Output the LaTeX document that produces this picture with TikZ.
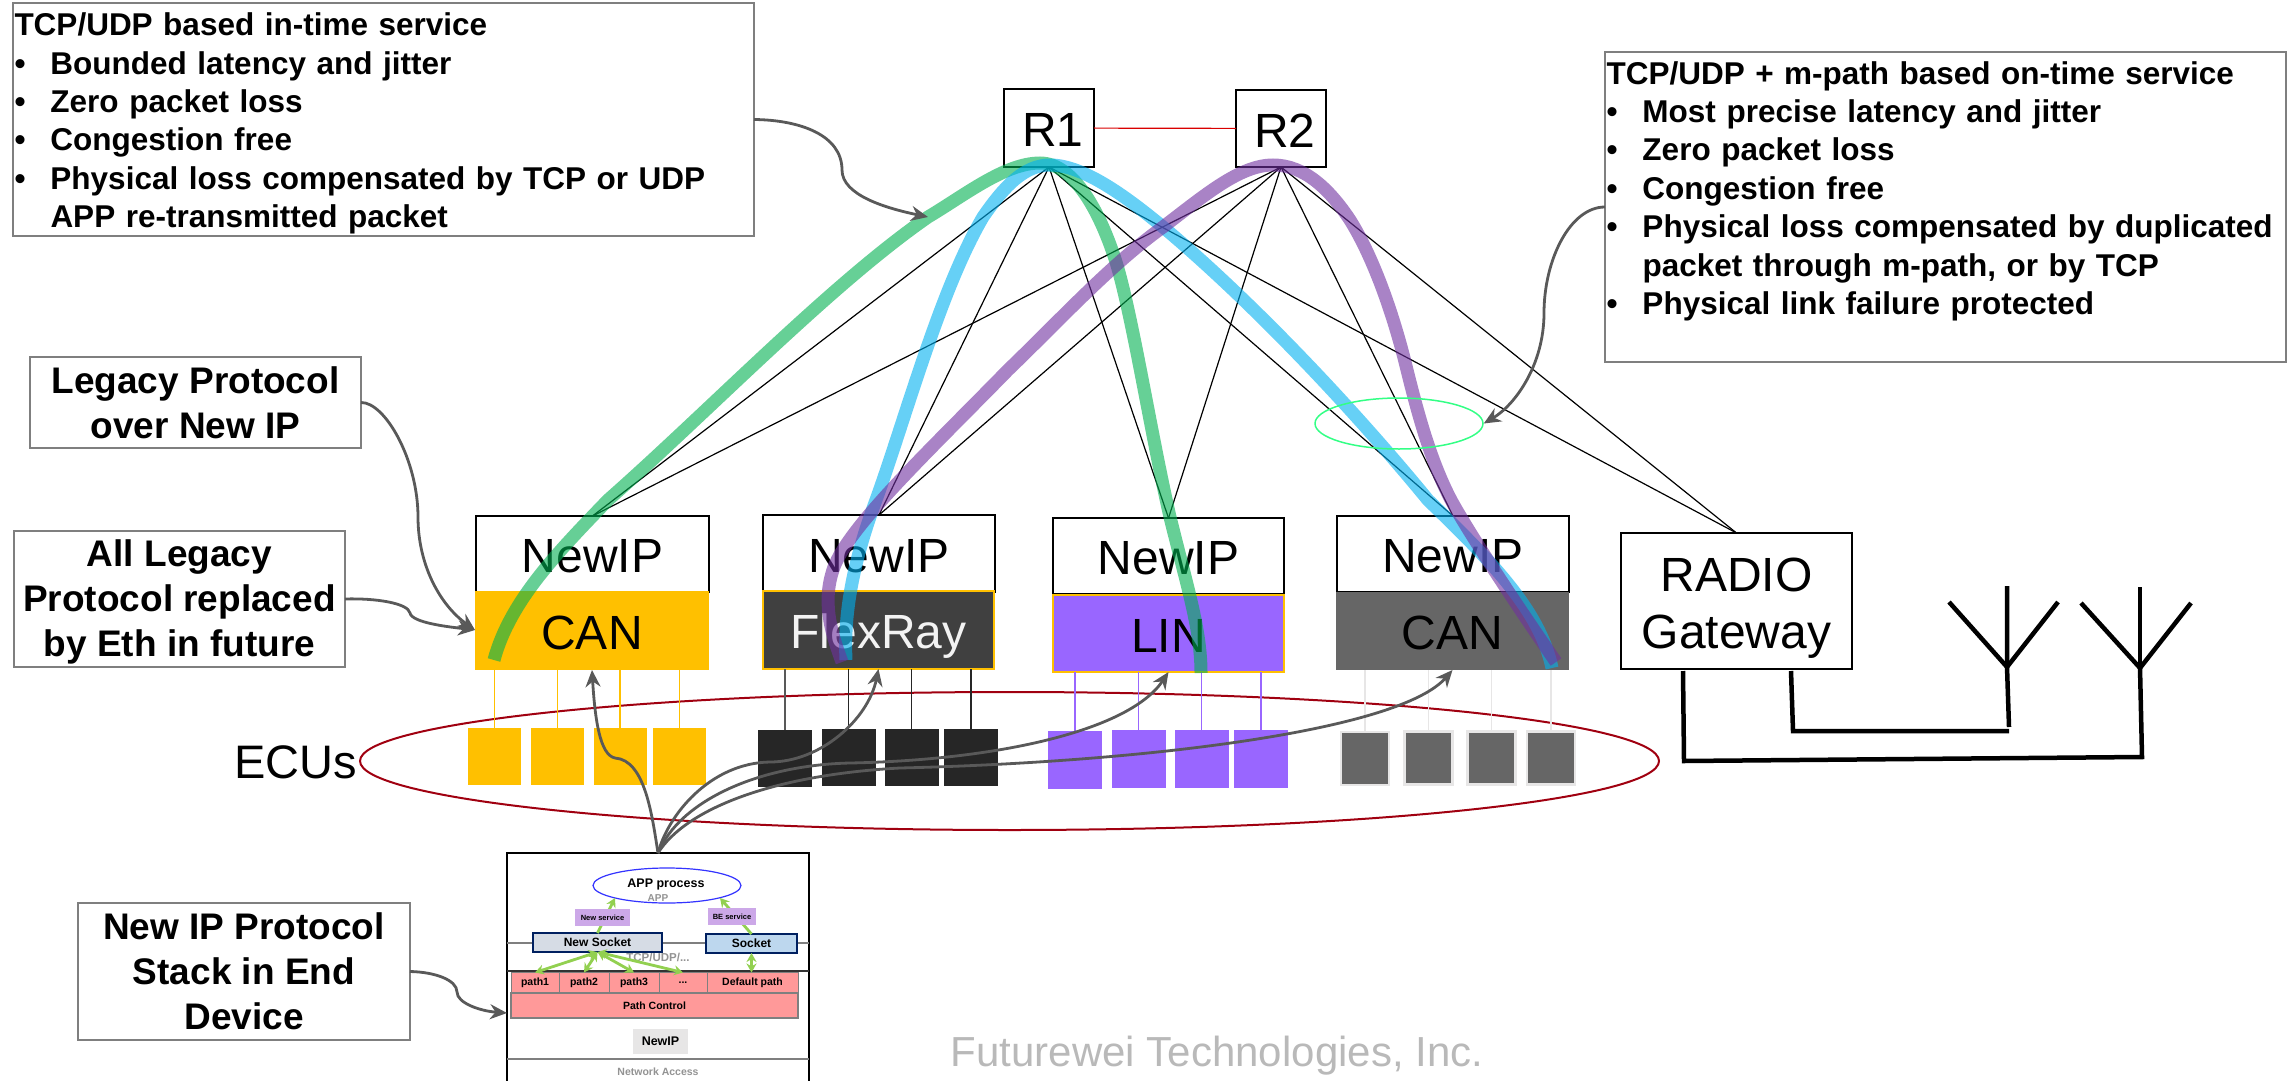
\documentclass[tikz,border=0pt]{standalone}
\usepackage{fontspec}
\setmainfont{Liberation Sans}
\usetikzlibrary{arrows.meta, shapes.geometric, positioning}

\definecolor{linegray}{HTML}{595959}
\definecolor{boxgray}{HTML}{7F7F7F}
\definecolor{ecuyellow}{HTML}{FFC000}
\definecolor{ecublack}{HTML}{262626}
\definecolor{ecupurple}{HTML}{9966FF}
\definecolor{ecugray}{HTML}{666666}
\definecolor{palegray}{HTML}{E7E6E6}
\definecolor{ovalred}{HTML}{A00010}
\definecolor{stackgreen}{HTML}{92D050}
\definecolor{socketblue}{HTML}{002060}
\definecolor{servicepurple}{HTML}{CCA8E8}
\definecolor{pathred}{HTML}{FF9999}
\definecolor{routegreen}{HTML}{00B050}
\definecolor{routeblue}{HTML}{00B0F0}
\definecolor{routepurple}{HTML}{7030A0}
\definecolor{newsockfill}{HTML}{D6DCE5}
\definecolor{sockfill}{HTML}{BDD7EE}

\newcommand{\bul}{\makebox[36pt][l]{•}}

\tikzset{
	bigbox/.style={rectangle,draw=black,line width=1.8pt,fill=white,inner sep=0pt,outer sep=0pt,align=center,font=\fontsize{48}{57}\selectfont},
	oneline/.style={bigbox,text height=37pt,text depth=0pt},
	proto/.style={oneline,draw=none,minimum width=233pt,minimum height=78pt},
	ecu/.style={rectangle,inner sep=0pt,outer sep=0pt,minimum width=54pt,minimum height=57pt},
	note/.style={rectangle,draw=boxgray,line width=2pt,fill=white,inner sep=0pt,outer sep=0pt,align=center,font=\fontsize{37}{45}\bfseries\selectfont},
	listnote/.style={note,align=left,inner xsep=1.5pt,font=\fontsize{31.5}{38.4}\bfseries\selectfont},
	thinline/.style={black,line width=1.2pt},
	callout/.style={linegray,line width=2.8pt,-{Stealth[length=17pt,width=15pt]}},
	antenna/.style={black,line width=4.5pt},
	route/.style={line width=13pt,opacity=.6},
	layer/.style={line width=1.4pt},
	socket/.style={rectangle,draw=socketblue,line width=2pt,inner sep=0pt,outer sep=0pt,font=\fontsize{12}{14}\bfseries\selectfont},
	service/.style={rectangle,fill=servicepurple,inner sep=0pt,outer sep=0pt,font=\fontsize{7.5}{9}\bfseries\selectfont},
	cell/.style={rectangle,draw=boxgray,fill=pathred,line width=1pt,inner sep=0pt,outer sep=0pt,minimum height=21pt,font=\fontsize{10.5}{12}\bfseries\selectfont},
	greenup/.style={stackgreen,line width=2.8pt,-{Stealth[length=9pt,width=10pt]}},
	greenboth/.style={stackgreen,line width=2.8pt,{Stealth[length=9pt,width=10pt]}-{Stealth[length=9pt,width=10pt]}},
	graytext/.style={text=gray!85,font=\fontsize{10.5}{12}\bfseries\selectfont}
}

\begin{document}
\begin{tikzpicture}[x=1pt,y=-1pt]
	\useasboundingbox (0,0) rectangle (2288,1081);
	\clip (0,0) rectangle (2288,1081);

	% routers
	\node[oneline,minimum width=90pt,minimum height=78pt] (r1) at (1049,128) {\hspace*{8pt}R1};
	\node[oneline,minimum width=90pt,minimum height=77pt] (r2) at (1281,128.5) {\hspace*{8pt}R2};
	\draw[red!85!black,line width=1.2pt] (r1) -- (r2);

	% protocol boxes
	\node[oneline,minimum width=233pt,minimum height=76pt] (ip1) at (592.5,554) {NewIP};
	\node[oneline,minimum width=232pt,minimum height=77pt] (ip2) at (879,553.5) {NewIP};
	\node[oneline,minimum width=231pt,minimum height=76pt] (ip3) at (1168.5,556) {NewIP};
	\node[oneline,minimum width=232pt,minimum height=76pt] (ip4) at (1453,554) {NewIP};
	\node[bigbox,line width=1.5pt,minimum width=231pt,minimum height=136pt] (radio) at (1736.5,601) {\rule{0pt}{47pt}RADIO\\Gateway};

	\draw[thinline] (r1.south) -- (ip1.north);
	\draw[thinline] (r1.south) -- (ip2.north);
	\draw[thinline] (r1.south) -- (ip3.north);
	\draw[thinline] (r1.south) -- (ip4.north);
	\draw[thinline] (r1.south) -- (radio.north);
	\draw[thinline] (r2.south) -- (ip1.north);
	\draw[thinline] (r2.south) -- (ip2.north);
	\draw[thinline] (r2.south) -- (ip3.north);
	\draw[thinline] (r2.south) -- (ip4.north);
	\draw[thinline] (r2.south) -- (radio.north);

	\node[proto,fill=ecuyellow,minimum width=234pt,minimum height=79pt] (can1) at (592,630.5) {CAN};
	\node[proto,draw=ecuyellow,line width=1.5pt,fill=black!75,text=palegray!50,minimum width=231pt] (flex) at (878.5,630) {FlexRay};
	\node[proto,draw=ecuyellow,line width=1.5pt,fill=ecupurple,minimum width=231pt,minimum height=77pt] (lin) at (1168.5,633.5) {LIN};
	\node[proto,fill=ecugray] (can2) at (1452.5,631) {CAN};

	% ECUs
	\node[font=\fontsize{47}{58}\selectfont] (ecus) at (296,762) {ECUs};
	\node[ellipse,draw=ovalred,line width=2pt,inner sep=0pt,minimum width=1299pt,minimum height=138pt] (oval) at (1009.5,761) {};

	\node[ecu,fill=ecuyellow,minimum width=53pt] (y1) at (494.5,756.5) {};
	\node[ecu,fill=ecuyellow,minimum width=53pt] (y2) at (557.5,756) {};
	\node[ecu,fill=ecuyellow,minimum width=53pt] (y3) at (620,756) {};
	\node[ecu,fill=ecuyellow,minimum width=53pt] (y4) at (679.5,756) {};
	\node[ecu,fill=ecublack] (b1) at (785,758.5) {};
	\node[ecu,fill=ecublack] (b2) at (848.5,757.5) {};
	\node[ecu,fill=ecublack] (b3) at (911.5,757.5) {};
	\node[ecu,fill=ecublack] (b4) at (971,757.5) {};
	\node[ecu,fill=ecupurple,minimum height=58pt] (p1) at (1075,760) {};
	\node[ecu,fill=ecupurple,minimum height=58pt] (p2) at (1138.5,759) {};
	\node[ecu,fill=ecupurple,minimum height=58pt] (p3) at (1201.5,759) {};
	\node[ecu,fill=ecupurple,minimum height=58pt] (p4) at (1261,759) {};
	\node[ecu,draw=palegray,line width=2.5pt,fill=ecugray,minimum width=48pt,minimum height=53pt] (g1) at (1365,758.5) {};
	\node[ecu,draw=palegray,line width=2.5pt,fill=ecugray,minimum width=48pt,minimum height=53pt] (g2) at (1428.5,758) {};
	\node[ecu,draw=palegray,line width=2.5pt,fill=ecugray,minimum width=48pt,minimum height=53pt] (g3) at (1491.5,758) {};
	\node[ecu,draw=palegray,line width=2.5pt,fill=ecugray,minimum width=48pt,minimum height=53pt] (g4) at (1551,758) {};

	\draw[ecuyellow,line width=1.2pt] (y1.north) -- (y1.north |- can1.south);
	\draw[ecuyellow,line width=1.2pt] (y2.north) -- (y2.north |- can1.south);
	\draw[ecuyellow,line width=1.2pt] (y3.north) -- (y3.north |- can1.south);
	\draw[ecuyellow,line width=1.2pt] (y4.north) -- (y4.north |- can1.south);
	\draw[linegray,line width=1.4pt] (b1.north) -- (b1.north |- flex.south);
	\draw[black!85,line width=1.2pt] (b2.north) -- (b2.north |- flex.south);
	\draw[black!85,line width=1.2pt] (b3.north) -- (b3.north |- flex.south);
	\draw[black!85,line width=1.2pt] (b4.north) -- (b4.north |- flex.south);
	\draw[ecupurple,line width=1.2pt] (p1.north) -- (p1.north |- lin.south);
	\draw[ecupurple,line width=1.2pt] (p2.north) -- (p2.north |- lin.south);
	\draw[ecupurple,line width=1.2pt] (p3.north) -- (p3.north |- lin.south);
	\draw[ecupurple,line width=1.2pt] (p4.north) -- (p4.north |- lin.south);
	\draw[palegray,line width=1.2pt] (g1.north) -- (g1.north |- can2.south);
	\draw[palegray,line width=1.2pt] (g2.north) -- (g2.north |- can2.south);
	\draw[palegray,line width=1.2pt] (g3.north) -- (g3.north |- can2.south);
	\draw[palegray,line width=1.2pt] (g4.north) -- (g4.north |- can2.south);

	% routes over the boxes
	\coordinate (topa) at (1040,163);
	\coordinate (topb) at (1050,165);
	\coordinate (topc) at (1273,165);
	\draw[route,color=routegreen] (494,660) .. controls (510,600) and (560,550) .. (608,500)
		.. controls (710,410) and (830,285) .. (928,217) .. controls (965,195) and (1005,163) .. (topa)
		.. controls (1075,163) and (1100,215) .. (1113,253) .. controls (1130,300) and (1150,430) .. (1170,517)
		.. controls (1188,590) and (1201,630) .. (1201,673);
	\draw[route,color=routeblue] (846,660) .. controls (844,620) and (850,570) .. (876,500)
		.. controls (905,420) and (940,290) .. (983,217) .. controls (1005,185) and (1025,165) .. (topb)
		.. controls (1085,165) and (1130,200) .. (1163,227) .. controls (1250,300) and (1350,405) .. (1428,500)
		.. controls (1490,560) and (1540,610) .. (1552,668);
	\draw[route,color=routepurple] (842,662) .. controls (830,630) and (822,600) .. (834,567)
		.. controls (850,525) and (930,450) .. (1008,370) .. controls (1060,320) and (1110,265) .. (1163,227)
		.. controls (1205,195) and (1240,165) .. (topc) .. controls (1305,165) and (1330,190) .. (1350,220)
		.. controls (1375,260) and (1395,320) .. (1407,370) .. controls (1417,410) and (1430,460) .. (1451,500)
		.. controls (1470,535) and (1520,610) .. (1556,662);
	\node[ellipse,draw=green!60!cyan!80,line width=1.5pt,inner sep=0pt,minimum width=168pt,minimum height=51pt] (dup) at (1399,423.5) {};

	% antennas
	\coordinate (a1) at (2007,667);
	\coordinate (a2) at (2140,668);
	\draw[antenna] (1949,602) -- (a1) -- (2058,602);
	\draw[antenna] (2007,586) -- (a1) -- (2009,727);
	\draw[antenna] (2081,603) -- (a2) -- (2191,603);
	\draw[antenna] (2140,587) -- (a2);
	\draw[antenna] (1683,671) -- (1684,761) -- (2142,757) -- (a2);
	\draw[antenna] (1791,671) -- (1793,731) -- (2009,731);

	% notes
	\node[listnote,text width=738pt,minimum width=741pt,minimum height=233pt] (intime) at (383.5,119.5) {\rule{0pt}{31pt}TCP/UDP based in-time service\\
		\bul Bounded latency and jitter\\
		\bul Zero packet loss\\
		\bul Congestion free\\
		\bul Physical loss compensated by TCP or UDP\\
		\hspace*{36pt}APP re-transmitted packet};
	\node[listnote,text width=678pt,minimum width=681pt,minimum height=310pt] (ontime) at (1945.5,207) {TCP/UDP + m-path based on-time service\\
		\bul Most precise latency and jitter\\
		\bul Zero packet loss\\
		\bul Congestion free\\
		\bul Physical loss compensated by duplicated\\
		\hspace*{36pt}packet through m-path, or by TCP\\
		\bul Physical link failure protected\\
		\mbox{}};
	\node[note,minimum width=331pt,minimum height=91pt] (legacy) at (195.5,402.5) {Legacy Protocol\\over New IP};
	\node[note,minimum width=331pt,minimum height=136pt] (allleg) at (179.5,599) {\rule{0pt}{33pt}All Legacy\\Protocol replaced\\by Eth in future};
	\node[note,minimum width=332pt,minimum height=137pt] (stacknote) at (244,971.5) {New IP Protocol\\Stack in End\\Device};

	% protocol stack of an end device
	\node[rectangle,draw=black,line width=1.5pt,fill=white,inner sep=0pt,outer sep=0pt,minimum width=302pt,minimum height=294pt] (stack) at (658,1000) {};
	\coordinate (l1a) at (stack.west |- 0,943);
	\coordinate (l1b) at (stack.east |- 0,943);
	\coordinate (l2a) at (stack.west |- 0,971);
	\coordinate (l2b) at (stack.east |- 0,971);
	\coordinate (l3a) at (stack.west |- 0,1059);
	\coordinate (l3b) at (stack.east |- 0,1059);
	\draw[layer,boxgray] (l1a) -- (l1b);
	\draw[layer,black!80] (l2a) -- (l2b);
	\draw[layer,boxgray] (l3a) -- (l3b);

	\node[ellipse,draw=blue!80,line width=1.2pt,inner sep=0pt,minimum width=148pt,minimum height=35pt] (app) at (667,885.5) {};
	\node[font=\fontsize{12.5}{14}\bfseries\selectfont] (apptext) at (666,884) {APP process};
	\node[graytext,font=\fontsize{10}{12}\bfseries\selectfont] (applayer) at (658,898.5) {APP};
	\node[graytext,font=\fontsize{11.5}{14}\bfseries\selectfont] (tcplayer) at (658,957) {TCP/UDP/...};

	\node[cell,minimum width=48pt] (pa) at (535,983) {path1};
	\node[cell,minimum width=50pt] (pb) at (584,983) {path2};
	\node[cell,minimum width=50pt] (pc) at (634,983) {path3};
	\node[cell,minimum width=48pt] (pd) at (683,983) {...};
	\node[cell,minimum width=91pt] (pe) at (752.5,983) {Default path};
	\node[cell,minimum width=287pt,minimum height=25pt,line width=1.4pt] (pctl) at (654.5,1005.5) {Path Control};

	\node[socket,fill=newsockfill,minimum width=129pt,minimum height=19pt] (newsock) at (597.5,942.5) {New Socket};
	\node[socket,fill=sockfill,minimum width=91pt,minimum height=19pt] (sock) at (751.5,943.5) {Socket};
	\draw[greenup] (newsock.north) -- (615,898);
	\draw[greenup] (sock.north) -- (720,898);
	\node[service,minimum width=55pt,minimum height=17pt] (newserv) at (602.5,917.5) {New service};
	\node[service,minimum width=48pt,minimum height=17pt] (beserv) at (732,916.5) {BE service};

	\draw[greenboth] (newsock.south) -- (pa.north);
	\draw[greenboth] (newsock.south) -- (pb.north);
	\draw[greenboth] (newsock.south) -- (pc.north);
	\draw[greenboth] (newsock.south) -- (pd.north);
	\draw[greenboth] (sock.south) -- (sock.south |- pe.north);

	\node[rectangle,fill=palegray,inner sep=0pt,minimum width=55pt,minimum height=25pt,font=\fontsize{12.5}{14}\bfseries\selectfont] (ipbox) at (660.5,1041.5) {NewIP};
	\node[graytext] (netacc) at (658,1072) {Network Access};

	% call-outs
	\draw[callout] (intime.east) .. controls (800,120) and (842,135) .. (842,170) .. controls (842,195) and (885,208) .. (928,217);
	\coordinate (ontimein) at (ontime.west |- 0,207);
	\draw[callout] (ontimein) .. controls (1570,207) and (1544,260) .. (1544,313) .. controls (1544,365) and (1515,405) .. (dup.east);
	\coordinate (canleft) at (can1.west |- 0,630);
	\draw[callout] (legacy.east) .. controls (385,402) and (418,460) .. (418,517) .. controls (418,565) and (440,605) .. (canleft);
	\draw[callout] (allleg.east) .. controls (375,598) and (408,603) .. (410,613) .. controls (412,623) and (450,627) .. (canleft);
	\coordinate (stackleft) at (stack.west |- 0,1013);
	\draw[callout] (stacknote.east) .. controls (435,972) and (457,980) .. (457,992) .. controls (457,1003) and (480,1011) .. (stackleft);

	\draw[callout] (stack.north) .. controls (652,815) and (645,760) .. (615,758) .. controls (600,755) and (595,720) .. (can1.south);
	\draw[callout] (stack.north) .. controls (668,815) and (710,763) .. (770,762) .. controls (820,762) and (868,720) .. (flex.south);
	\draw[callout] (stack.north) .. controls (680,800) and (760,765) .. (850,763) .. controls (1000,760) and (1130,730) .. (lin.south);
	\draw[callout] (stack.north) .. controls (685,810) and (770,775) .. (900,768) .. controls (1150,762) and (1400,730) .. (can2.south);

	\node[text=gray!55,font=\fontsize{42}{48}\selectfont] (futurewei) at (1217,1056) {Futurewei Technologies, Inc.};
\end{tikzpicture}
\end{document}
